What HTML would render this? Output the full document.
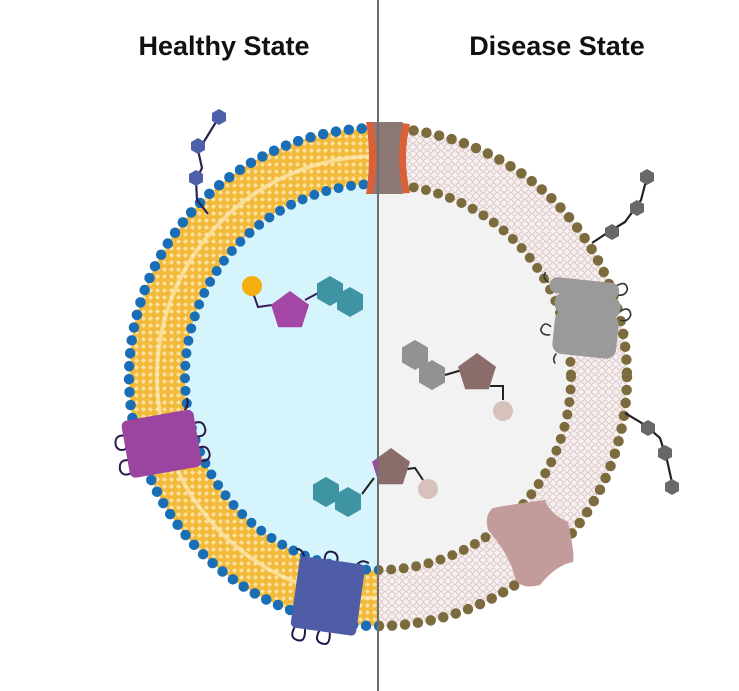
<!DOCTYPE html>
<html><head><meta charset="utf-8"><style>
html,body{margin:0;padding:0;background:#fff;width:739px;height:691px;overflow:hidden}
svg{display:block}
</style></head><body>
<svg width="739" height="691" viewBox="0 0 739 691" xmlns="http://www.w3.org/2000/svg">
<defs>
<clipPath id="L"><rect x="0" y="0" width="378" height="691"/></clipPath>
<clipPath id="R"><rect x="378" y="0" width="361" height="691"/></clipPath>
<polygon id="hx" points="0,-15 13,-7.5 13,7.5 0,15 -13,7.5 -13,-7.5"/>
<polygon id="sh" points="0,-8 7,-4 7,4 0,8 -7,4 -7,-4"/>
<polygon id="pt" points="0,-20 19,-6.2 11.8,16.2 -11.8,16.2 -19,-6.2"/>
<pattern id="meshY" width="7" height="7" patternUnits="userSpaceOnUse"><rect width="7" height="7" fill="#f3b93a"/><path d="M3.5 1 L6 3.5 L3.5 6 L1 3.5Z" fill="#fbe2a2"/></pattern>
<pattern id="meshP" width="7" height="7" patternUnits="userSpaceOnUse"><rect width="7" height="7" fill="#f7f0f0"/><path d="M3.5 0.5 L6.5 3.5 L3.5 6.5 L0.5 3.5Z" fill="none" stroke="#d8c2c2" stroke-width="0.8"/></pattern>
</defs>
<text x="224" y="55" text-anchor="middle" font-family="Liberation Sans, sans-serif" font-weight="bold" font-size="27" fill="#111">Healthy State</text>
<text x="557" y="55" text-anchor="middle" font-family="Liberation Sans, sans-serif" font-weight="bold" font-size="27" fill="#111">Disease State</text>

<g clip-path="url(#L)">
<circle cx="378" cy="377" r="221" fill="none" stroke="url(#meshY)" stroke-width="56"/>
<circle cx="378" cy="377" r="221" fill="none" stroke="#fcebb8" stroke-width="4" opacity="0.7"/>
<circle cx="378" cy="377" r="192" fill="#d6f4fb"/>
<circle cx="378" cy="377" r="249" fill="none" stroke="#1a6eb6" stroke-width="10.5" stroke-linecap="round" stroke-dasharray="0 13"/>
<circle cx="378" cy="377" r="193" fill="none" stroke="#1a6eb6" stroke-width="10" stroke-linecap="round" stroke-dasharray="0 12.6"/>
</g>
<g clip-path="url(#R)">
<circle cx="378" cy="377" r="221" fill="none" stroke="url(#meshP)" stroke-width="56"/>
<circle cx="378" cy="377" r="192" fill="#f2f2f2"/>
<circle cx="378" cy="377" r="249" fill="none" stroke="#7b6b3d" stroke-width="10.5" stroke-linecap="round" stroke-dasharray="0 13"/>
<circle cx="378" cy="377" r="193" fill="none" stroke="#7b6b3d" stroke-width="10" stroke-linecap="round" stroke-dasharray="0 12.6"/>
</g>

<!-- top channel -->
<path d="M366 122 L388 122 Q382 158 388 194 L366 194 Q372 158 366 122Z" fill="#d8613a"/>
<path d="M392 122 L410 124 Q402 158 410 193 L392 194 Q398 158 392 122Z" fill="#d8613a"/>
<path d="M373 122 L403 122 Q395 158 403 194 L373 194 Q380 158 373 122Z" fill="#8c7874"/>

<g fill="none" stroke="#2a2550" stroke-width="2.2">
<polyline points="219,117 205,140 198,150 202,168 196,180 197,200 208,214"/>
</g>
<g fill="#4e60aa">
<use href="#sh" x="219" y="117"/><use href="#sh" x="198" y="146"/><use href="#sh" x="196" y="178"/>
</g>

<g fill="none" stroke="#222" stroke-width="2.2">
<polyline points="647,177 641,200 625,222 610,231 592,243"/>
<polyline points="625,413 645,425 660,438 667,460 673,487"/>
</g>
<g fill="#686868">
<use href="#sh" x="647" y="177"/><use href="#sh" x="637" y="208"/><use href="#sh" x="612" y="232"/>
<use href="#sh" x="648" y="428"/><use href="#sh" x="665" y="453"/><use href="#sh" x="672" y="487"/>
</g>

<!-- purple protein -->
<g transform="rotate(-10 160 443)">
<g fill="none" stroke="#2a1a48" stroke-width="2">
<path d="M128 430 q-12 -4 -12 8 q2 8 12 4"/><path d="M128 455 q-12 -4 -12 8 q2 8 12 4"/>
<path d="M195 430 q12 -4 12 8 q-2 8 -12 4"/><path d="M195 455 q12 -4 12 8 q-2 8 -12 4"/>
<path d="M190 415 q6 -6 4 -12"/>
</g>
<rect x="125" y="415" width="73" height="58" rx="6" fill="#9c45a0"/>
</g>

<!-- blue protein -->
<g transform="rotate(8 328 595)">
<g fill="none" stroke="#1d1a48" stroke-width="2">
<path d="M300 630 q-6 14 6 14 q6 0 4 -12"/><path d="M325 630 q-6 14 6 14 q6 0 4 -12"/>
<path d="M320 562 q-2 -12 8 -10 q6 2 4 12"/><path d="M300 562 q-4 -10 -10 -8"/><path d="M352 562 q4 -8 12 -4"/>
</g>
<rect x="295" y="560" width="66" height="72" rx="5" fill="#4f5da8"/>
</g>

<!-- gray protein -->
<g transform="rotate(6 582 320)">
<g fill="none" stroke="#333" stroke-width="1.6">
<path d="M545 286 q-8 -4 -4 -10"/><path d="M612 283 q10 -8 12 2 q-2 8 -10 6"/>
<path d="M618 308 q10 -8 12 2 q-2 8 -10 6"/><path d="M552 330 q-8 -6 -10 4 q2 6 10 4"/>
<path d="M560 356 q-4 6 0 10"/>
</g>
<rect x="546" y="280" width="70" height="16" rx="8" fill="#9a9a9a"/>
<rect x="553" y="294" width="66" height="22" rx="10" fill="#9a9a9a"/>
<rect x="555" y="312" width="64" height="44" rx="10" fill="#9a9a9a"/>
</g>

<!-- pink protein -->
<path d="M493 508 Q520 503 545 500 Q550 514 568 522 Q575 555 573 562 Q556 565 540 585 Q520 590 515 578 Q510 555 488 530 Q484 515 493 508Z" fill="#c49b9b"/>

<g stroke="#3a1c58" stroke-width="2" fill="none"><polyline points="252,290 258,307 272,305"/><line x1="305" y1="300" x2="320" y2="292"/></g>
<circle cx="252" cy="286" r="10" fill="#f5ad0f"/>
<use href="#pt" x="290" y="311" fill="#a346a5"/>
<use href="#hx" x="330" y="291" fill="#3f94a4"/><use href="#hx" x="350" y="302" fill="#3f94a4"/>

<g stroke="#222" stroke-width="2" fill="none"><line x1="445" y1="375" x2="462" y2="370"/><polyline points="490,386 503,386 503,400"/></g>
<use href="#hx" x="415" y="355" fill="#949290"/><use href="#hx" x="432" y="375" fill="#949290"/>
<use href="#pt" x="477" y="373" fill="#8a6d6a"/>
<circle cx="503" cy="411" r="10" fill="#d6c1bc"/>

<g stroke="#222" stroke-width="2" fill="none"><polyline points="400,470 415,468 423,480"/><line x1="362" y1="494" x2="374" y2="478"/></g>
<use href="#hx" x="326" y="492" fill="#3f94a4"/><use href="#hx" x="348" y="502" fill="#3f94a4"/>
<g clip-path="url(#L)"><use href="#pt" x="391" y="468" fill="#a346a5"/></g>
<g clip-path="url(#R)"><use href="#pt" x="391" y="468" fill="#8a6d6a"/></g>
<circle cx="428" cy="489" r="10" fill="#d6c1bc"/>

<line x1="378" y1="0" x2="378" y2="691" stroke="#6e6e6e" stroke-width="2"/>
</svg>
</body></html>
